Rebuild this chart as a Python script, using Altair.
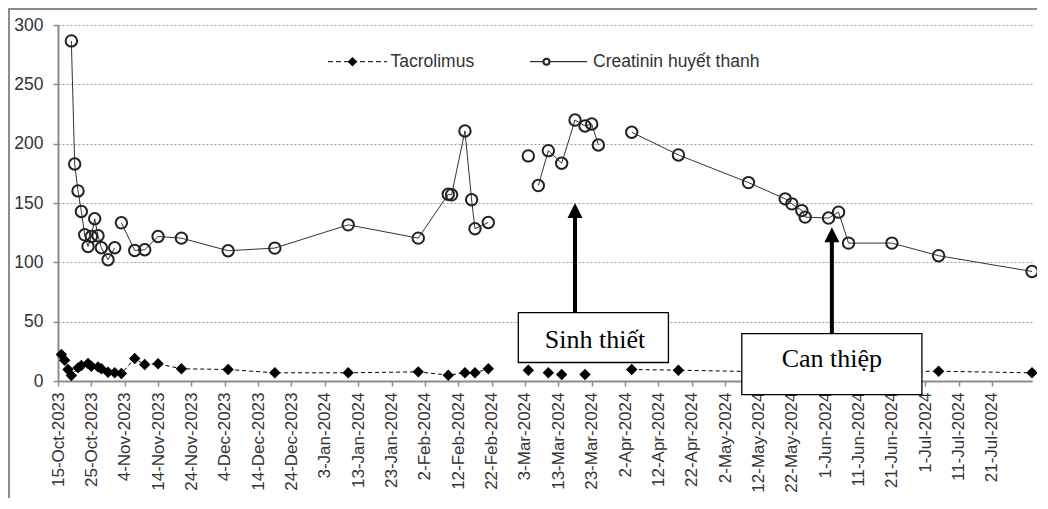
import altair as alt
import pandas as pd

# ---------------- data ----------------
# Creatinin huyết thanh (None = gap in the line)
crea_dates = ["2023-10-19", "2023-10-20", "2023-10-21", "2023-10-22", "2023-10-23",
              "2023-10-24", "2023-10-25", "2023-10-26", "2023-10-27", "2023-10-28",
              "2023-10-30", "2023-11-01", "2023-11-02", "2023-11-03", "2023-11-07",
              "2023-11-10", "2023-11-14", "2023-11-21", "2023-12-05", "2023-12-19",
              "2024-01-10", "2024-01-31", "2024-02-09", "2024-02-10", "2024-02-14",
              "2024-02-16", "2024-02-17", "2024-02-21", "2024-02-28", "2024-03-04",
              "2024-03-05", "2024-03-07", "2024-03-10", "2024-03-14", "2024-03-18",
              "2024-03-21", "2024-03-23", "2024-03-25", "2024-03-30", "2024-04-04",
              "2024-04-18", "2024-05-09", "2024-05-20", "2024-05-22", "2024-05-25",
              "2024-05-26", "2024-06-02", "2024-06-05", "2024-06-08", "2024-06-21",
              "2024-07-05", "2024-08-02"]
crea_vals = [286.6, 182.9, 160.2, 142.8, 123.2,
             113.4, 121.8, 136.7, 122.4, 112.3,
             102.2, 112.3, None, 133.3, 110.0,
             110.6, 121.8, 120.4, 109.8, 112.0,
             131.6, 120.4, 157.4, 156.9, 210.7,
             152.7, 128.3, 133.6, None, 189.7,
             None, 164.7, 194.1, 183.5, 219.9,
             214.9, 216.6, 198.9, None, 209.6,
             190.5, 167.2, 153.5, 149.3, 143.6,
             138.1, 137.3, 142.3, 116.2, 116.2,
             105.6, 92.3]

# Tacrolimus (None = gap in the line)
tac_dates = ["2023-10-16", "2023-10-17", "2023-10-18", "2023-10-19", "2023-10-21",
             "2023-10-22", "2023-10-24", "2023-10-25", "2023-10-27", "2023-10-28",
             "2023-10-30", "2023-11-01", "2023-11-03", "2023-11-07", "2023-11-10",
             "2023-11-14", "2023-11-21", "2023-12-05", "2023-12-19", "2024-01-10",
             "2024-01-31", "2024-02-09", "2024-02-14", "2024-02-17", "2024-02-21",
             "2024-02-28", "2024-03-04", "2024-03-07", "2024-03-10", "2024-03-12",
             "2024-03-14", "2024-03-18", "2024-03-21", "2024-03-28", "2024-04-04",
             "2024-04-18", "2024-05-09", "2024-05-20", "2024-05-26", "2024-06-02",
             "2024-06-08", "2024-06-21", "2024-07-05", "2024-08-02"]
tac_vals = [22.3, 17.5, 9.7, 4.6, 11.1,
            13.0, 14.7, 12.4, 11.9, 10.3,
            7.4, 6.9, 6.3, 18.9, 13.9,
            14.5, 10.3, 9.7, 6.9, 6.9,
            7.7, 4.9, 6.9, 6.9, 10.3,
            None, 9.1, None, 6.9, None,
            5.5, None, 5.5, None, 9.7,
            9.1, 8.0, 8.0, 8.0, 8.0,
            8.0, 8.0, 8.2, 6.9]

# Axis ticks
x_tick_dates = ["2023-10-15", "2023-10-25", "2023-11-04", "2023-11-14", "2023-11-24",
                "2023-12-04", "2023-12-14", "2023-12-24", "2024-01-03", "2024-01-13",
                "2024-01-23", "2024-02-02", "2024-02-12", "2024-02-22", "2024-03-03",
                "2024-03-13", "2024-03-23", "2024-04-02", "2024-04-12", "2024-04-22",
                "2024-05-02", "2024-05-12", "2024-05-22", "2024-06-01", "2024-06-11",
                "2024-06-21", "2024-07-01", "2024-07-11", "2024-07-21"]
y_ticks = [0, 50, 100, 150, 200, 250, 300]
x_domain = ["2023-10-15", "2024-08-02"]

# Annotations (anchored in data coordinates)
ann_labels = ["Sinh thiết", "Can thiệp"]
ann_text_date = ["2024-03-24", "2024-06-03"]
ann_text_y = [34.5, 18.2]
ann_box_start = ["2024-03-01", "2024-05-07"]
ann_box_end = ["2024-04-15", "2024-06-30"]
ann_box_top = [57.6, 40.0]
ann_box_bottom = [15.6, -11.4]
ann_arrow_date = ["2024-03-18", "2024-06-03"]
ann_shaft_end = [140.0, 119.0]
ann_head_mid = [143.6, 123.2]

# ---------------- build chart ----------------
def ms(s):
    return int(pd.Timestamp(s, tz="UTC").value // 10**6)

crea_df = pd.DataFrame({"date": crea_dates, "value": crea_vals})
tac_df = pd.DataFrame({"date": tac_dates, "value": tac_vals})
ann_df = pd.DataFrame({
    "label": ann_labels, "text_date": ann_text_date, "text_y": ann_text_y,
    "box_start": ann_box_start, "box_end": ann_box_end,
    "box_top": ann_box_top, "box_bottom": ann_box_bottom,
    "arrow_date": ann_arrow_date, "shaft_end": ann_shaft_end,
    "head_mid": ann_head_mid,
})
one = pd.DataFrame({"k": [0]})

W, H = 974, 356
GRAY = "#8c8c8c"
TXT = "#333333"

x_scale = alt.Scale(type="utc", domain=[ms(d) for d in x_domain], nice=False)
y_scale = alt.Scale(domain=[0, 300], nice=False, zero=True)
x_axis = alt.Axis(values=[ms(d) for d in x_tick_dates],
                  labelExpr="utcFormat(datum.value, '%-d-%b-%Y')",
                  labelAngle=-90, labelOverlap=False, labelFontSize=17,
                  labelFlush=False, grid=False, tickSize=5, labelPadding=6,
                  title=None)
y_axis = alt.Axis(values=y_ticks, grid=True, tickSize=5, labelPadding=10,
                  title=None)


def X(field):
    return alt.X(field, type="temporal", scale=x_scale, axis=x_axis, title=None)


def Y(field):
    return alt.Y(field, type="quantitative", scale=y_scale, axis=y_axis, title=None)


crea_line = alt.Chart(crea_df).mark_line(
    color="#333333", strokeWidth=1, invalid="break-paths-show-domains"
).encode(x=X("date"), y=Y("value"))
crea_pts = alt.Chart(crea_df).mark_point(
    shape="circle", filled=False, color="#222222", strokeWidth=2, size=130, opacity=1
).encode(x=X("date"), y=Y("value"))

tac_line = alt.Chart(tac_df).mark_line(
    color="black", strokeWidth=1, strokeDash=[4, 3], invalid="break-paths-show-domains"
).encode(x=X("date"), y=Y("value"))
tac_pts = alt.Chart(tac_df).mark_point(
    shape="diamond", filled=True, color="black", size=130, opacity=1
).encode(x=X("date"), y=Y("value"))

shaft = alt.Chart(ann_df).mark_rule(color="black", strokeWidth=4).encode(
    x=X("arrow_date"), y=Y("box_top"), y2="shaft_end:Q")
head = alt.Chart(ann_df).mark_point(
    shape="M0,-1L-1,1L1,1Z", filled=True, color="black", size=225, opacity=1
).encode(x=X("arrow_date"), y=Y("head_mid"))
box = alt.Chart(ann_df).mark_rect(fill="white", stroke="black", strokeWidth=1.3).encode(
    x=X("box_start"), x2="box_end:T", y=Y("box_top"), y2="box_bottom:Q")
box_text = alt.Chart(ann_df).mark_text(
    font="Liberation Serif", fontSize=26, color="black", align="center", baseline="middle"
).encode(x=X("text_date"), y=Y("text_y"), text="label:N")

# Legend (drawn inside the plot, as in the original)
LY = 36.7
leg_tac_line = alt.Chart(one).mark_rule(color="black", strokeWidth=1, strokeDash=[5, 3]).encode(
    x=alt.value(270), x2=alt.value(329), y=alt.value(LY))
leg_tac_pt = alt.Chart(one).mark_point(shape="diamond", filled=True, color="black",
                                       size=90, opacity=1).encode(
    x=alt.value(294.5), y=alt.value(LY))
leg_tac_txt = alt.Chart(one).mark_text(text="Tacrolimus", font="Liberation Sans",
                                       fontSize=17.5, color=TXT, align="left",
                                       baseline="middle").encode(
    x=alt.value(332.5), y=alt.value(LY))
leg_cr_line = alt.Chart(one).mark_rule(color="black", strokeWidth=1).encode(
    x=alt.value(472), x2=alt.value(529), y=alt.value(LY))
leg_cr_pt = alt.Chart(one).mark_point(shape="circle", filled=False, color="#222222",
                                      strokeWidth=2, size=35, opacity=1, fill="white",
                                      fillOpacity=1).encode(
    x=alt.value(488.5), y=alt.value(LY))
leg_cr_txt = alt.Chart(one).mark_text(text="Creatinin huyết thanh", font="Liberation Sans",
                                      fontSize=17.5, color=TXT, align="left",
                                      baseline="middle").encode(
    x=alt.value(535), y=alt.value(LY))

frame = alt.Chart(one).mark_rect(fillOpacity=0, stroke=GRAY, strokeWidth=2).encode(
    x=alt.value(-49), x2=alt.value(W + 60), y=alt.value(-16), y2=alt.value(H + 200))

chart = alt.layer(
    frame, crea_line, crea_pts, tac_line, tac_pts, shaft, head, box, box_text,
    leg_tac_line, leg_tac_pt, leg_tac_txt, leg_cr_line, leg_cr_pt, leg_cr_txt,
).properties(
    width=W, height=H,
    autosize=alt.AutoSizeParams(type="none"),
    padding={"left": 50, "top": 17, "right": 5, "bottom": 117},
    background="white",
).configure_view(
    strokeWidth=0
).configure_axis(
    domainColor=GRAY, domainWidth=2, tickColor=GRAY, tickWidth=1.5,
    labelFont="Liberation Sans", labelFontSize=17.5, labelColor=TXT,
).configure_axisY(
    gridColor="#999999", gridDash=[2, 2], gridWidth=1,
)

chart.save("out.html", embed_options={"renderer": "svg", "actions": False})
